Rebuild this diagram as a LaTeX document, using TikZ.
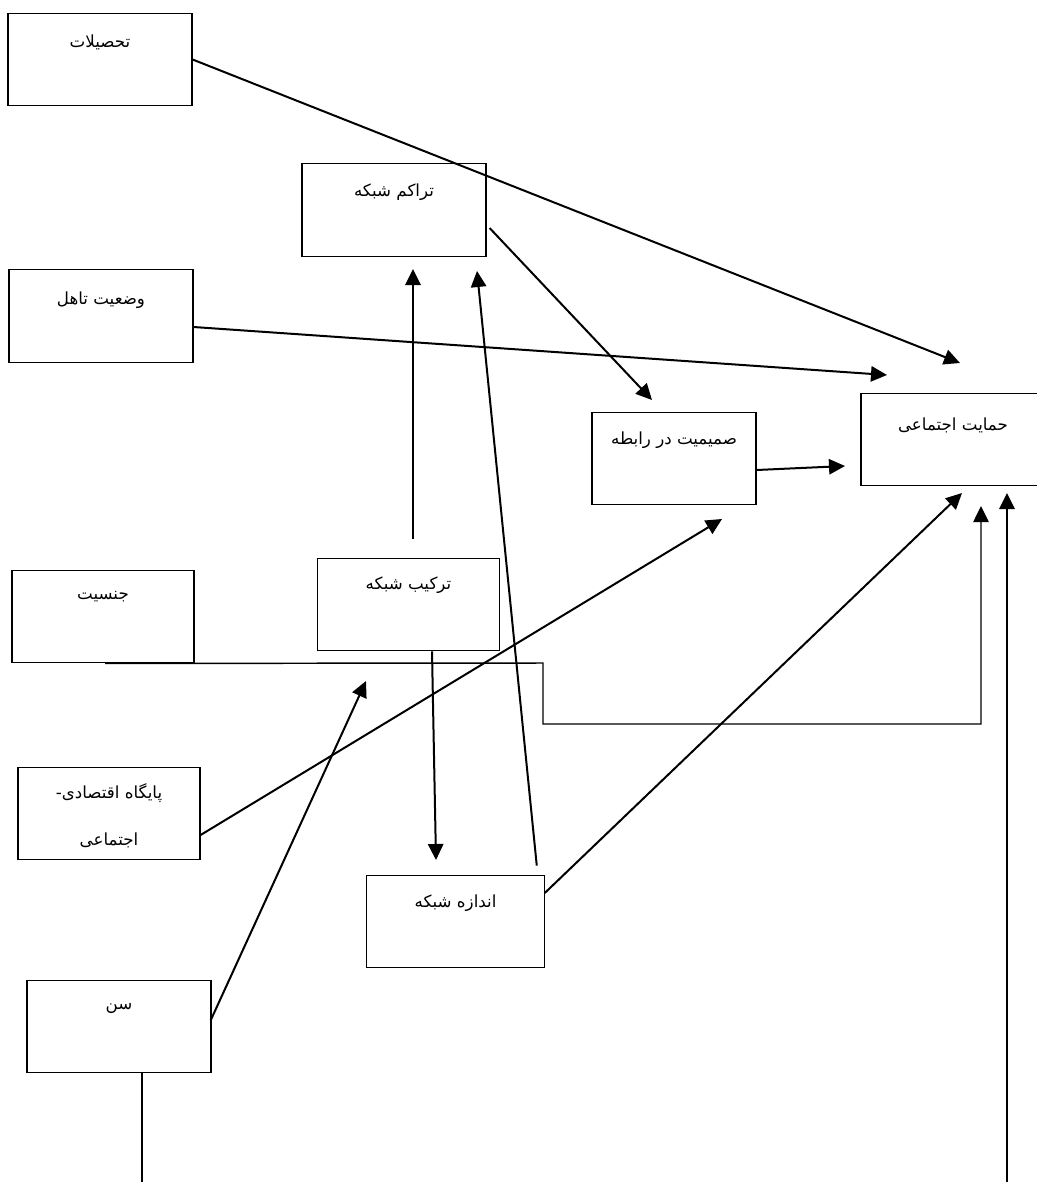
\documentclass[tikz,border=0pt]{standalone}
\usepackage{fontspec}
\newfontfamily\fa[Script=Arabic]{DejaVu Sans}
\TeXXeTstate=1
\usetikzlibrary{arrows.meta}
\begin{document}
\begin{tikzpicture}[x=0.75pt,y=-0.75pt,
  box/.style={draw,line width=0.9pt,inner sep=0pt,minimum height=69.5pt},
  lab/.style={anchor=center,inner sep=0pt,font=\fa\fontsize{12.5}{15}\selectfont,align=center},
  arr/.style={line width=1.5pt,-{Triangle[length=12pt,width=11.5pt]}},
  thinarr/.style={line width=1.1pt,-{Triangle[length=12pt,width=11.5pt]}},
  ln/.style={line width=1pt}]
\useasboundingbox (0,0) rectangle (1037,1182);
% boxes
\node[box,minimum width=138pt] (edu) at (100,59.5) {};
\node[box,minimum width=138pt] (tar) at (394,210) {};
\node[box,minimum width=123pt] (sam) at (674,458.5) {};
\node[box,minimum width=138pt] (hem) at (953,439.5) {};
\node[box,minimum width=138pt] (vaz) at (101,316) {};
\node[box,minimum width=136.5pt] (jen) at (103,616.5) {};
\node[box,minimum width=137pt] (tar2) at (408.5,604.5) {};
\node[box,minimum width=136.5pt] (pay) at (109,813.5) {};
\node[box,minimum width=133pt] (and) at (455.5,921.5) {};
\node[box,minimum width=138pt] (sen) at (119,1026.5) {};
% labels
\node[lab] (tedu) at (100,42) {\beginR تحصیلات\endR};
\node[lab] (ttar) at (394,192) {\beginR تراکم شبکه\endR};
\node[lab] (tsam) at (674,440) {\beginR صمیمیت در رابطه\endR};
\node[lab] (them) at (953,425) {\beginR حمایت اجتماعی\endR};
\node[lab] (tvaz) at (101,300) {\beginR وضعیت تاهل\endR};
\node[lab] (tjen) at (103,597) {\beginR جنسیت\endR};
\node[lab] (ttar2) at (408.5,585) {\beginR ترکیب شبکه\endR};
\node[lab] (tpay1) at (109,793) {\beginR پایگاه اقتصادی\kern0pt-\endR};
\node[lab] (tpay2) at (109,840) {\beginR اجتماعی\endR};
\node[lab] (tand) at (455.5,903) {\beginR اندازه شبکه\endR};
\node[lab] (tsen) at (119,1008) {\beginR سن\endR};
% free ends
\coordinate (p1) at (960,363);
\coordinate (p2) at (887,375);
\coordinate (p3) at (652,400);
\coordinate (p4) at (845,466);
\coordinate (p5) at (413,269);
\coordinate (p6) at (477,271);
\coordinate (p7) at (436,860);
\coordinate (p8) at (366,681);
\coordinate (p9) at (722,519);
\coordinate (p10) at (962,493);
\coordinate (j1) at (543,663);
\coordinate (j2) at (543,724);
\coordinate (j3) at (981,724);
\coordinate (p11) at (981,506);
\coordinate (s1) at (142,1182);
\coordinate (r1) at (1007,1182);
\coordinate (p12) at (1007,493);
% connectors
\draw[arr] (edu.east) -- (p1);
\draw[arr] ([shift={(0,11)}]vaz.east) -- (p2);
\draw[arr] ([shift={(3,18)}]tar.east) -- (p3);
\draw[arr] ([shift={(0,11.5)}]sam.east) -- (p4);
\draw[arr] ([shift={(4.5,-19)}]tar2.north) -- (p5);
\draw[arr] ([shift={(-8,-9)}]and.north east) -- (p6);
\draw[arr] ([shift={(23.5,0)}]tar2.south) -- (p7);
\draw[arr] ([shift={(-1,-6)}]sen.east) -- (p8);
\draw[arr] ([shift={(0,21.5)}]pay.east) -- (p9);
\draw[arr] ([shift={(0,-28.5)}]and.east) -- (p10);
\draw[thinarr] ([shift={(2,0)}]jen.south) -- (j1) -- (j2) -- (j3) -- (p11);
\draw[ln] ([shift={(23,0)}]sen.south) -- (s1);
\draw[arr] (r1) -- (p12);
\end{tikzpicture}
\end{document}
